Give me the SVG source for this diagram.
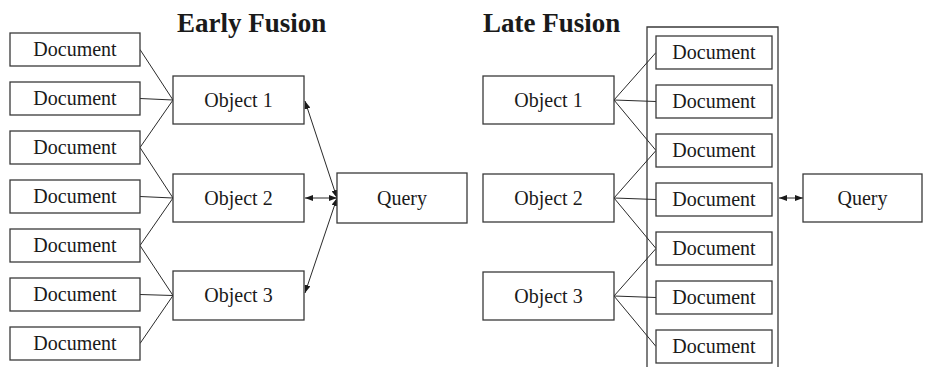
<svg xmlns="http://www.w3.org/2000/svg" width="925" height="367" viewBox="0 0 925 367">
<style>
.box{fill:#fff;stroke:#3a3a3a;stroke-width:1.3}
.t{font-family:"Liberation Serif","Times New Roman",serif;font-size:20px;fill:#1a1a1a;text-anchor:middle}
.h{font-family:"Liberation Serif","Times New Roman",serif;font-size:27px;font-weight:bold;fill:#1a1a1a}
.ln{stroke:#2a2a2a;stroke-width:1;fill:none}
.ar{stroke:#2a2a2a;stroke-width:1;fill:none;marker-start:url(#ah);marker-end:url(#ah)}
</style>
<defs>
<marker id="ah" viewBox="0 0 8 6" refX="8" refY="3" markerWidth="8" markerHeight="6" markerUnits="userSpaceOnUse" orient="auto-start-reverse">
<path d="M0,0 L8,3 L0,6 Z" fill="#1a1a1a"/>
</marker>
</defs>
<text class="h" x="177" y="32">Early Fusion</text>
<text class="h" x="483" y="32">Late Fusion</text>

<g id="container">
<path d="M647,370 L647,27 L778,27 L778,370" class="box" fill="none"/>
</g>

<g id="connectors">
<line class="ln" x1="140" y1="49.5" x2="173" y2="100"/>
<line class="ln" x1="140" y1="98.5" x2="173" y2="100"/>
<line class="ln" x1="140" y1="147.5" x2="173" y2="100"/>
<line class="ln" x1="140" y1="147.5" x2="173" y2="198"/>
<line class="ln" x1="140" y1="196.5" x2="173" y2="198"/>
<line class="ln" x1="140" y1="245.5" x2="173" y2="198"/>
<line class="ln" x1="140" y1="245.5" x2="173" y2="295.5"/>
<line class="ln" x1="140" y1="294.5" x2="173" y2="295.5"/>
<line class="ln" x1="140" y1="343.5" x2="173" y2="295.5"/>
<line class="ar" x1="305" y1="101" x2="337" y2="198"/>
<line class="ar" x1="305" y1="198" x2="337" y2="198"/>
<line class="ar" x1="305" y1="293" x2="337" y2="198"/>
<line class="ln" x1="614" y1="100" x2="656" y2="52.5"/>
<line class="ln" x1="614" y1="100" x2="656" y2="101.5"/>
<line class="ln" x1="614" y1="100" x2="656" y2="150.5"/>
<line class="ln" x1="614" y1="198" x2="656" y2="150.5"/>
<line class="ln" x1="614" y1="198" x2="656" y2="199.5"/>
<line class="ln" x1="614" y1="198" x2="656" y2="248.5"/>
<line class="ln" x1="614" y1="296" x2="656" y2="248.5"/>
<line class="ln" x1="614" y1="296" x2="656" y2="297.5"/>
<line class="ln" x1="614" y1="296" x2="656" y2="346.5"/>
<line class="ar" x1="779" y1="198" x2="803" y2="198"/>
</g>

<g id="e-doc1"><rect class="box" x="10" y="33" width="130" height="33"/><text class="t" x="75" y="56">Document</text></g>
<g id="e-doc2"><rect class="box" x="10" y="82" width="130" height="33"/><text class="t" x="75" y="105">Document</text></g>
<g id="e-doc3"><rect class="box" x="10" y="131" width="130" height="33"/><text class="t" x="75" y="154">Document</text></g>
<g id="e-doc4"><rect class="box" x="10" y="180" width="130" height="33"/><text class="t" x="75" y="203">Document</text></g>
<g id="e-doc5"><rect class="box" x="10" y="229" width="130" height="33"/><text class="t" x="75" y="252">Document</text></g>
<g id="e-doc6"><rect class="box" x="10" y="278" width="130" height="33"/><text class="t" x="75" y="301">Document</text></g>
<g id="e-doc7"><rect class="box" x="10" y="327" width="130" height="33"/><text class="t" x="75" y="350">Document</text></g>

<g id="e-obj1"><rect class="box" x="173" y="76" width="131" height="48"/><text class="t" x="238.5" y="107">Object 1</text></g>
<g id="e-obj2"><rect class="box" x="173" y="174" width="131" height="48"/><text class="t" x="238.5" y="205">Object 2</text></g>
<g id="e-obj3"><rect class="box" x="173" y="271" width="131" height="49"/><text class="t" x="238.5" y="302">Object 3</text></g>

<g id="e-query"><rect class="box" x="337" y="173" width="130" height="50"/><text class="t" x="402" y="205">Query</text></g>

<g id="l-obj1"><rect class="box" x="483" y="76" width="131" height="48"/><text class="t" x="548.5" y="107">Object 1</text></g>
<g id="l-obj2"><rect class="box" x="483" y="174" width="131" height="48"/><text class="t" x="548.5" y="205">Object 2</text></g>
<g id="l-obj3"><rect class="box" x="483" y="272" width="131" height="48"/><text class="t" x="548.5" y="303">Object 3</text></g>

<g id="l-doc1"><rect class="box" x="656" y="36" width="116" height="33"/><text class="t" x="714" y="59">Document</text></g>
<g id="l-doc2"><rect class="box" x="656" y="85" width="116" height="33"/><text class="t" x="714" y="108">Document</text></g>
<g id="l-doc3"><rect class="box" x="656" y="134" width="116" height="33"/><text class="t" x="714" y="157">Document</text></g>
<g id="l-doc4"><rect class="box" x="656" y="183" width="116" height="33"/><text class="t" x="714" y="206">Document</text></g>
<g id="l-doc5"><rect class="box" x="656" y="232" width="116" height="33"/><text class="t" x="714" y="255">Document</text></g>
<g id="l-doc6"><rect class="box" x="656" y="281" width="116" height="33"/><text class="t" x="714" y="304">Document</text></g>
<g id="l-doc7"><rect class="box" x="656" y="330" width="116" height="33"/><text class="t" x="714" y="353">Document</text></g>

<g id="l-query"><rect class="box" x="803" y="174" width="119" height="48"/><text class="t" x="862.5" y="205">Query</text></g>
</svg>
